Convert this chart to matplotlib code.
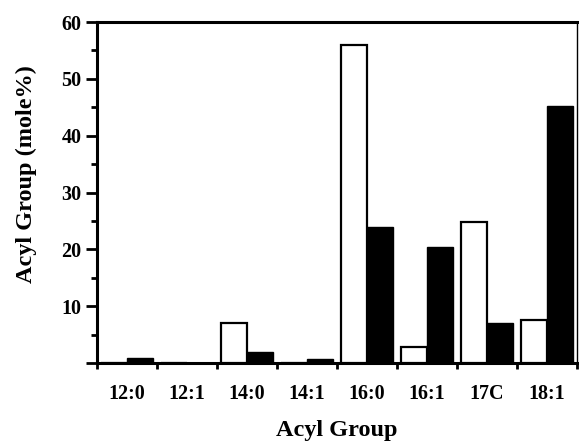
import matplotlib
matplotlib.use("Agg")
import matplotlib.pyplot as plt
import numpy as np

categories = ["12:0", "12:1", "14:0", "14:1", "16:0", "16:1", "17C", "18:1"]
white_vals = [0, 0, 7.0, 0, 56.0, 2.8, 24.8, 7.5]
black_vals = [0.8, 0, 2.0, 0.7, 24.0, 20.4, 7.0, 45.2]
y_ticks = [0, 10, 20, 30, 40, 50, 60]
y_ticklabels = ["", "10", "20", "30", "40", "50", "60"]

plt.rcParams['font.family'] = ['Liberation Serif', 'DejaVu Serif']

fig = plt.figure(figsize=(5.79, 4.43), dpi=100)
ax = fig.add_axes([0.1675, 0.1806, 0.829, 0.7697])

x = np.arange(len(categories))
w = 0.44
ax.bar(x - w / 2, white_vals, width=w, color="white", edgecolor="black", linewidth=1.6, zorder=3)
ax.bar(x + w / 2, black_vals, width=w, color="black", edgecolor="black", linewidth=1.0, zorder=3)

ax.set_xlim(-0.5, len(categories) - 0.5)
ax.set_ylim(0, 60)

ax.set_xticks(x)
ax.set_xticklabels(categories, fontsize=14.5, fontweight="bold")
ax.set_xticks(np.arange(-0.5, len(categories)), minor=True)
ax.tick_params(axis="x", which="major", length=0, pad=15)
ax.tick_params(axis="x", which="minor", length=4, width=2, direction="out")

ax.set_yticks(y_ticks)
ax.set_yticklabels(y_ticklabels, fontsize=14.5, fontweight="bold")
ax.set_yticks(np.arange(5, 60, 10), minor=True)
ax.tick_params(axis="y", which="major", length=8, width=2, direction="out", pad=3)
ax.tick_params(axis="y", which="minor", length=4, width=2, direction="out")

for s in ["left", "bottom", "top"]:
    ax.spines[s].set_linewidth(2.2)
ax.spines["right"].set_linewidth(1.0)

ax.set_xlabel("Acyl Group", fontsize=17.5, fontweight="bold", labelpad=12)
ax.set_ylabel("Acyl Group (mole%)", fontsize=17.5, fontweight="bold")
ax.yaxis.set_label_coords(-0.125, 0.554)

fig.savefig("out.png", dpi=100)
